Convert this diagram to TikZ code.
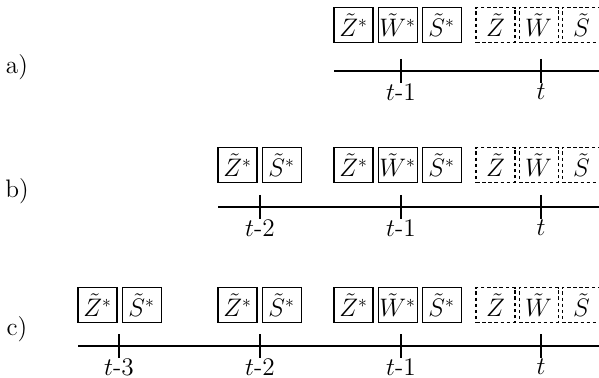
\documentclass[tikz,border=0pt]{standalone}
\usepackage{amsmath, amssymb}
\usetikzlibrary{positioning}

\tikzset{
  slot/.style={draw, line width=0.6pt, minimum width=0.78cm, minimum height=0.7cm, inner sep=0pt, font=\Large},
  slotnext/.style={slot, dash pattern=on 2pt off 1.5pt},
  timeline/.style={line width=0.8pt},
}

\begin{document}
\begin{tikzpicture}[x=0.02cm, y=-0.02cm]
    \useasboundingbox (0,0) rectangle (599,378);
    % row names
    \node[font=\Large] (rowa) at (17,67) {a)};
    \node[font=\Large] (rowb) at (17,191) {b)};
    \node[font=\Large] (rowc) at (17,329) {c)};
    % time lines
    \foreach \r/\y/\s in {a/71/334, b/207/218, c/346/78}{
            \coordinate (\r-start) at (\s,\y);
            \coordinate (\r-end) at (599,\y);
            \draw[timeline] (\r-start) -- (\r-end);
        }
    % ticks and their times
    \foreach \r/\y/\x/\k/\lab in {a/71/401/1/$t$-$1$, a/71/541/0/$t$,
            b/207/260/2/$t$-$2$, b/207/401/1/$t$-$1$, b/207/541/0/$t$,
            c/346/119/3/$t$-$3$, c/346/260/2/$t$-$2$, c/346/401/1/$t$-$1$, c/346/541/0/$t$}{
            \coordinate (\r-tick\k) at (\x,\y);
            \draw[timeline] ([yshift=0.24cm]\r-tick\k) -- ([yshift=-0.24cm]\r-tick\k);
            \node[font=\Large] (\r-time\k) at (\x,\y+21) {\lab};
        }
    % stored states at t-1 and the new ones at t
    \foreach \r/\y in {a/25, b/165, c/305}{
            \node[slot] (\r-z1) at (353.5,\y) {$\tilde{Z}^{*}$};
            \node[slot, right=0.08cm of \r-z1] (\r-w1) {$\tilde{W}^{*}$};
            \node[slot, right=0.08cm of \r-w1] (\r-s1) {$\tilde{S}^{*}$};
            \node[slotnext] (\r-z0) at (495.5,\y) {$\tilde{Z}$};
            \node[slotnext, right=0.06cm of \r-z0] (\r-w0) {$\tilde{W}$};
            \node[slotnext, right=0.06cm of \r-w0] (\r-s0) {$\tilde{S}$};
        }
    % older states
    \foreach \r/\y/\x/\k in {b/165/237.5/2, c/305/237.5/2, c/305/97.5/3}{
            \node[slot] (\r-z\k) at (\x,\y) {$\tilde{Z}^{*}$};
            \node[slot, right=0.08cm of \r-z\k] (\r-s\k) {$\tilde{S}^{*}$};
        }
\end{tikzpicture}
\end{document}
